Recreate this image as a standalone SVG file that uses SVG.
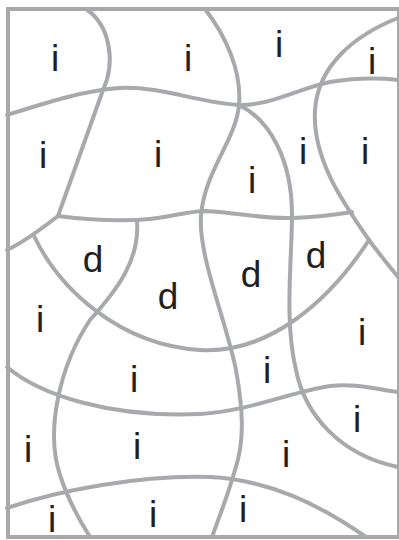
<svg xmlns="http://www.w3.org/2000/svg" width="399" height="540" viewBox="0 0 399 540">
<style>
.ln{fill:none;stroke:#a7a9ac;stroke-width:4;stroke-linecap:round;stroke-linejoin:round}
.t{font-family:"Liberation Sans",Arial,sans-serif;font-size:37px;fill:#231f20;text-anchor:middle}
</style>
<rect x="0" y="0" width="399" height="540" fill="#ffffff"/>
<g id="lines">
<rect class="ln" x="8" y="9" width="391" height="528" style="stroke-linecap:butt;stroke-linejoin:miter"/>
<path class="ln" d="M86,9 C110,25 116,62 103,90 L58,216"/>
<path class="ln" d="M7,115 C45,103 85,90 120,88 C160,86 200,103 239,105 C270,106 300,88 330,82 C355,78 380,78 398,80"/>
<path class="ln" d="M205,9 C225,35 242,70 239,105 C236,140 205,170 201,215 C198,256 226,320 236,370 C243,410 245,440 235,470 C228,495 218,520 212,537"/>
<path class="ln" d="M239,105 C270,120 292,160 292,215 C292,260 284,320 296,370 C305,415 340,455 398,467"/>
<path class="ln" d="M398,18 C355,35 318,65 315,110 C312,160 345,205 369,240 C380,255 390,267 398,277"/>
<path class="ln" d="M34,236 C60,290 120,345 200,350 C270,354 330,300 369,240"/>
<path class="ln" d="M7,250 C20,244 40,230 58,216"/>
<path class="ln" d="M58,216 C90,220 120,222 150,219 C175,216 190,211 205,211 C240,213 265,219 292,218 C320,217 340,214 352,212"/>
<path class="ln" d="M137,221 C140,260 117,290 90,320 C60,365 45,430 60,475 C68,500 78,518 90,537"/>
<path class="ln" d="M7,367 C40,395 110,418 200,414 C250,411 290,392 330,386 C355,383 375,389 398,392"/>
<path class="ln" d="M7,508 C60,490 140,475 210,477 C270,480 320,505 366,537"/>
</g>
<g id="labels">
<text class="t" x="55" y="71">i</text>
<text class="t" x="188" y="71">i</text>
<text class="t" x="279" y="57">i</text>
<text class="t" x="372" y="74">i</text>
<text class="t" x="43" y="168">i</text>
<text class="t" x="158" y="167">i</text>
<text class="t" x="252" y="193">i</text>
<text class="t" x="303" y="164">i</text>
<text class="t" x="365" y="164">i</text>
<text class="t" x="93" y="272">d</text>
<text class="t" x="168" y="309">d</text>
<text class="t" x="251" y="287">d</text>
<text class="t" x="316" y="268">d</text>
<text class="t" x="40" y="332">i</text>
<text class="t" x="362" y="345">i</text>
<text class="t" x="134" y="392">i</text>
<text class="t" x="267" y="383">i</text>
<text class="t" x="28" y="462">i</text>
<text class="t" x="137" y="459">i</text>
<text class="t" x="357" y="432">i</text>
<text class="t" x="286" y="467">i</text>
<text class="t" x="52" y="532">i</text>
<text class="t" x="153" y="527">i</text>
<text class="t" x="243" y="522">i</text>
</g>
</svg>
